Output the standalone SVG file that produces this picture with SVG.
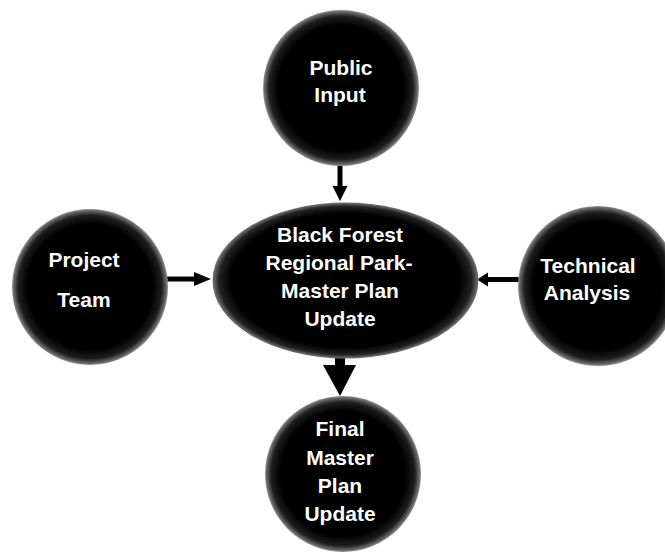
<svg xmlns="http://www.w3.org/2000/svg" width="665" height="556" viewBox="0 0 665 556">
  <defs>
    <radialGradient id="ball" cx="50%" cy="50%" r="50%">
      <stop offset="0" stop-color="#000"/>
      <stop offset="0.8" stop-color="#000"/>
      <stop offset="0.92" stop-color="#1e1e1e"/>
      <stop offset="0.98" stop-color="#6a6a6a"/>
      <stop offset="1" stop-color="#9a9a9a"/>
    </radialGradient>
    <radialGradient id="oval" cx="50%" cy="50%" r="50%">
      <stop offset="0" stop-color="#000"/>
      <stop offset="0.86" stop-color="#000"/>
      <stop offset="0.95" stop-color="#222"/>
      <stop offset="1" stop-color="#777"/>
    </radialGradient>
  </defs>
  <style>
    .node { fill: url(#ball); }
    .lbl { fill: #fff; font-family: "Liberation Sans", Arial, sans-serif; font-weight: bold; font-size: 21px; text-anchor: middle; }
    .conn { fill: #000; stroke: none; }
  </style>
  <rect width="665" height="556" fill="#fff"/>

  <g id="connectors">
    <!-- Public Input -> center -->
    <rect class="conn" x="337.5" y="162" width="5" height="25"/>
    <polygon class="conn" points="332.5,186 347.5,186 340,201"/>
    <!-- Project Team -> center -->
    <rect class="conn" x="165" y="276.5" width="31" height="5"/>
    <polygon class="conn" points="194,272 194,286 211,279"/>
    <!-- Technical Analysis -> center -->
    <rect class="conn" x="484" y="277" width="36" height="5"/>
    <polygon class="conn" points="488,272.5 488,286.5 477,279.5"/>
    <!-- center -> Final -->
    <rect class="conn" x="335" y="350" width="10" height="17"/>
    <polygon class="conn" points="323,365 356,365 340,396"/>
  </g>

  <g id="node-public-input">
    <circle class="node" cx="341" cy="88" r="78"/>
    <text class="lbl" x="341" y="75">Public</text>
    <text class="lbl" x="340" y="102">Input</text>
  </g>

  <g id="node-center">
    <ellipse cx="345.5" cy="280.5" rx="133" ry="78" fill="url(#oval)"/>
    <text class="lbl" x="340" y="242">Black Forest</text>
    <text class="lbl" x="339" y="270">Regional Park-</text>
    <text class="lbl" x="340" y="298">Master Plan</text>
    <text class="lbl" x="340" y="326">Update</text>
  </g>

  <g id="node-project-team">
    <circle class="node" cx="90" cy="287" r="78"/>
    <text class="lbl" x="84" y="267">Project</text>
    <text class="lbl" x="84" y="307">Team</text>
  </g>

  <g id="node-technical-analysis">
    <circle class="node" cx="598" cy="286" r="80"/>
    <text class="lbl" x="588" y="273">Technical</text>
    <text class="lbl" x="587" y="300">Analysis</text>
  </g>

  <g id="node-final">
    <circle class="node" cx="343" cy="474" r="78"/>
    <text class="lbl" x="340" y="436">Final</text>
    <text class="lbl" x="340" y="465">Master</text>
    <text class="lbl" x="340" y="493">Plan</text>
    <text class="lbl" x="340" y="521">Update</text>
  </g>
</svg>
